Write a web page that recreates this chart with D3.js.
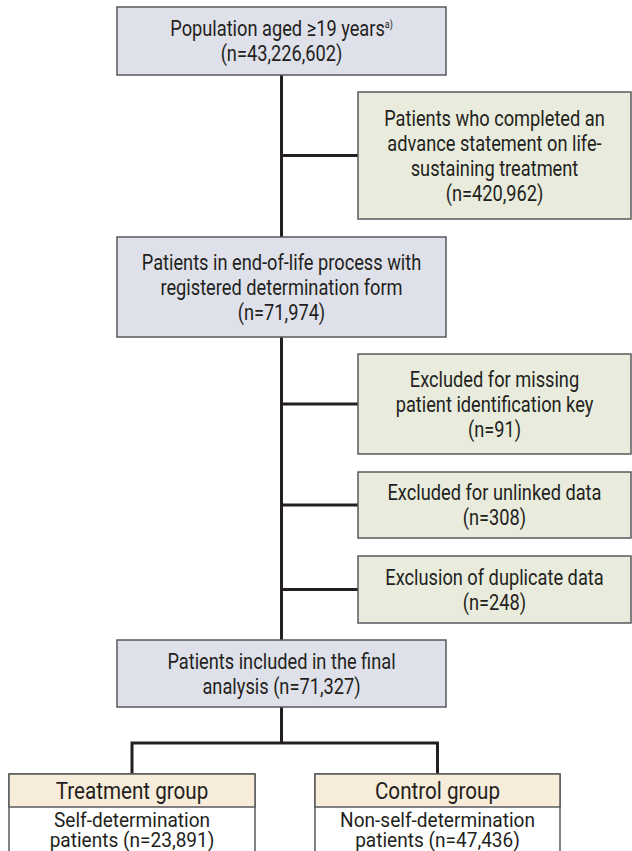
<!DOCTYPE html>
<html>
<head>
<meta charset="utf-8">
<script src="https://cdn.jsdelivr.net/npm/d3@7"></script>
<style>
  html, body { margin: 0; padding: 0; background: #ffffff; }
  svg { display: block; }
  text { font-family: Roboto, "DejaVu Sans Condensed", sans-serif; fill: #231f20; font-weight: 400; }
</style>
</head>
<body>
<div id="chart"></div>
<script>
// ---- Data ----
const mainSteps = [
  ["Population aged \u226519 years", "(n=43,226,602)"],
  ["Patients in end-of-life process with", "registered determination form", "(n=71,974)"],
  ["Patients included in the final", "analysis (n=71,327)"]
];
const sideSteps = [
  ["Patients who completed an", "advance statement on life-", "sustaining treatment", "(n=420,962)"],
  ["Excluded for missing", "patient identification key", "(n=91)"],
  ["Excluded for unlinked data", "(n=308)"],
  ["Exclusion of duplicate data", "(n=248)"]
];
const groupTitles = ["Treatment group", "Control group"];
const groupBodies = [
  ["Self-determination", "patients (n=23,891)"],
  ["Non-self-determination", "patients (n=47,436)"]
];

// ---- Layout ----
const W = 632, H = 851;
const svg = d3.select("#chart").append("svg").attr("width", W).attr("height", H);

const mainX = 117, mainW = 329;
const mainCx = mainX + mainW / 2;
const mainBoxes = [
  {y: 7, h: 68}, {y: 237, h: 100}, {y: 640, h: 67}
];
const sideX = 358, sideW = 273;
const sideBoxes = [
  {y: 92, h: 127}, {y: 354, h: 100}, {y: 472, h: 66}, {y: 556, h: 67}
];
const lineH = 25;
const fontSize = 22.5;
const sx = 0.81;

const lineColor = "#231f20";
const borderColor = "#58595b";

function addText(x, y, str, size, weight, scx) {
  return svg.append("text")
    .attr("transform", `translate(${x},${y}) scale(${scx || sx},1)`)
    .attr("text-anchor", "middle")
    .attr("font-size", size || fontSize)
    .attr("font-weight", weight || 400)
    .text(str);
}

// connectors
const g = svg.append("g");
g.append("line").attr("x1", mainCx).attr("x2", mainCx)
  .attr("y1", mainBoxes[0].y + mainBoxes[0].h).attr("y2", mainBoxes[2].y)
  .attr("stroke", lineColor).attr("stroke-width", 3);
sideBoxes.forEach(b => {
  g.append("line").attr("x1", mainCx).attr("x2", sideX)
    .attr("y1", b.y + b.h / 2).attr("y2", b.y + b.h / 2)
    .attr("stroke", lineColor).attr("stroke-width", 3);
});

const groupBoxes = [{x: 9, w: 246}, {x: 315, w: 245}];
const groupTop = 774, headerH = 33, connY = 743;
const finalBottom = mainBoxes[2].y + mainBoxes[2].h;
g.append("path")
  .attr("d", `M${mainCx},${finalBottom}V${connY}` +
    `M${groupBoxes[0].x + groupBoxes[0].w / 2},${groupTop}V${connY}H${groupBoxes[1].x + groupBoxes[1].w / 2}V${groupTop}`)
  .attr("fill", "none").attr("stroke", lineColor).attr("stroke-width", 3);

function drawBox(x, y, w, h, fill, lines, sup) {
  svg.append("rect").attr("x", x).attr("y", y).attr("width", w).attr("height", h)
    .attr("fill", fill).attr("stroke", borderColor).attr("stroke-width", 1.5);
  const n = lines.length;
  const cy = y + h / 2;
  lines.forEach((t, i) => {
    const ty = cy + (i - (n - 1) / 2) * lineH + fontSize * 0.34;
    const txt = addText(x + w / 2, ty, t);
    if (sup && i === 0) {
      txt.append("tspan").attr("font-size", 11).attr("dy", -8).text(sup);
    }
  });
}

mainSteps.forEach((lines, i) => {
  const b = mainBoxes[i];
  drawBox(mainX, b.y, mainW, b.h, "#dfe1ea", lines, i === 0 ? "a)" : null);
});
sideSteps.forEach((lines, i) => {
  const b = sideBoxes[i];
  drawBox(sideX, b.y, sideW, b.h, "#e9ecdd", lines, null);
});

groupBoxes.forEach((b, i) => {
  svg.append("rect").attr("x", b.x).attr("y", groupTop).attr("width", b.w).attr("height", H - groupTop + 10)
    .attr("fill", "#ffffff").attr("stroke", borderColor).attr("stroke-width", 1.5);
  svg.append("rect").attr("x", b.x).attr("y", groupTop).attr("width", b.w).attr("height", headerH)
    .attr("fill", "#f8ecda").attr("stroke", borderColor).attr("stroke-width", 1.5);
  addText(b.x + b.w / 2, groupTop + headerH / 2 + 8.5, groupTitles[i], 24, 400, 0.86);
  groupBodies[i].forEach((t, j) => {
    addText(b.x + b.w / 2, groupTop + headerH + 20 + j * 19.5, t, 20.5, 400, 0.93);
  });
});
</script>
</body>
</html>
